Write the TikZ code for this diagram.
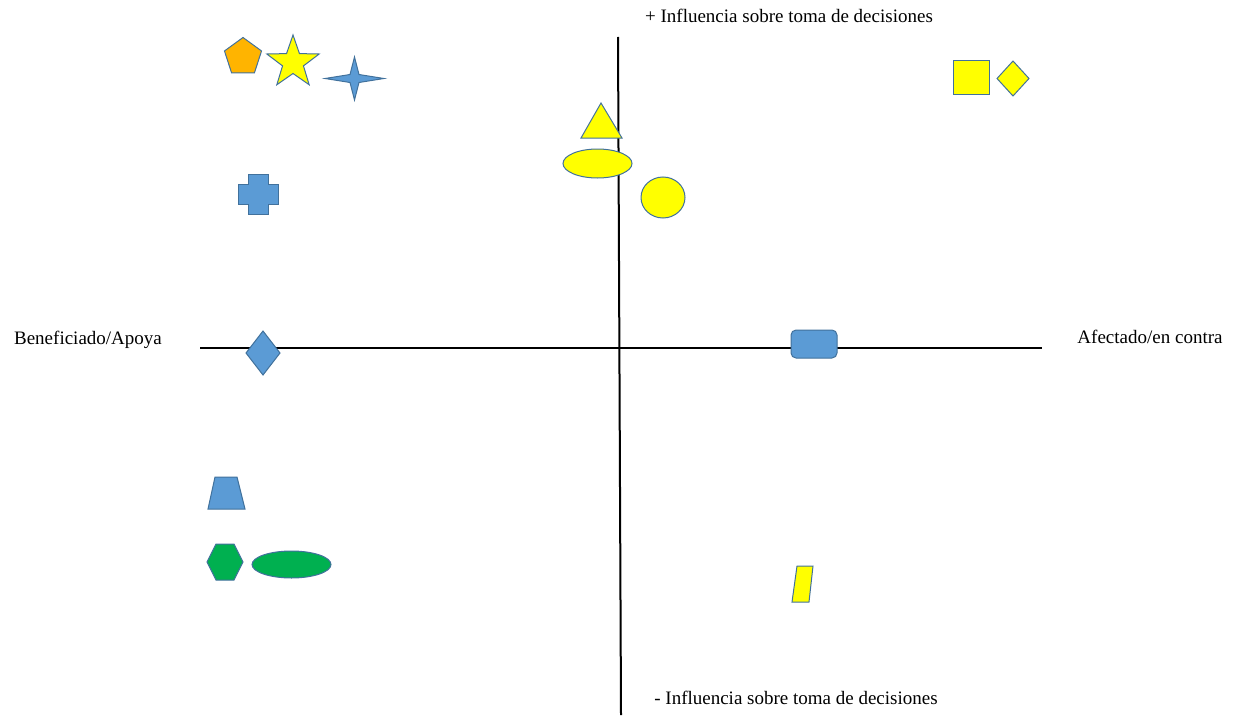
\documentclass[tikz,border=0pt]{standalone}
\usepackage{fontspec}
\setmainfont{Liberation Serif}
\usetikzlibrary{shapes.geometric}
\definecolor{msblue}{HTML}{5B9BD5}
\definecolor{msedge}{HTML}{41719C}
\definecolor{msyellow}{HTML}{FFFF00}
\definecolor{msgreen}{HTML}{00B050}
\definecolor{msorange}{HTML}{FFB400}
\begin{document}
\begin{tikzpicture}[x=0.5pt, y=-0.5pt,
  every node/.style={font=\fontsize{9.5}{12}\selectfont},
  blueshape/.style={fill=msblue, draw=msedge, line width=0.5pt},
  yellowshape/.style={fill=msyellow, draw=msedge, line width=0.5pt},
  greenshape/.style={fill=msgreen, draw=msedge, line width=0.5pt},
  orangeshape/.style={fill=msorange, draw=msedge, line width=0.5pt}]
  \useasboundingbox (0,0) rectangle (1236,717);

  % axes
  \coordinate (left) at (200,348);
  \coordinate (right) at (1042,348);
  \coordinate (top) at (618,37);
  \coordinate (bottom) at (621,715);
  \draw[line width=1pt] (left) -- (right);
  \draw[line width=1pt] (top) -- (bottom);

  % labels
  \node (plus) at (789,16) {+ Influencia sobre toma de decisiones};
  \node (minus) at (796,698) {- Influencia sobre toma de decisiones};
  \node (benef) at (88,340) {Beneficiado/Apoya};
  \node (afect) at (1150,337) {Afectado/en contra};

  % upper left
  \node[orangeshape, regular polygon, regular polygon sides=5, minimum size=19.5pt, inner sep=0pt] (penta) at (243,57) {};
  \node[yellowshape, star, star points=5, star point ratio=2.5, minimum size=27.5pt, inner sep=0pt] (estrella) at (293,62.5) {};
  \draw[blueshape] (325,78.5) -- (350,74.5) -- (354.5,57) -- (359,74.5) -- (384,78.5)
    -- (359,82.5) -- (354.5,100) -- (350,82.5) -- cycle;
  \draw[blueshape] (248,174) -- (268,174) -- (268,184) -- (278,184) -- (278,204) -- (268,204)
    -- (268,214) -- (248,214) -- (248,204) -- (238,204) -- (238,184) -- (248,184) -- cycle;

  % near the centre
  \draw[yellowshape] (601,103) -- (622,138) -- (581,138) -- cycle;
  \draw[yellowshape] (597.5,163.5) ellipse [x radius=17.25pt, y radius=7.25pt];
  \draw[yellowshape] (663,197.5) ellipse [x radius=11pt, y radius=10.25pt];

  % upper right
  \draw[yellowshape] (953,61) rectangle (989,95);
  \draw[yellowshape] (1013,61) -- (1029,78.5) -- (1013,96) -- (997,78.5) -- cycle;

  % on the horizontal axis
  \draw[blueshape] (263,331) -- (280,353) -- (263,375) -- (246,353) -- cycle;
  \draw[blueshape, rounded corners=2.5pt] (791,330) rectangle (837,358);

  % lower left
  \draw[blueshape] (215,477) -- (237,477) -- (245,509) -- (208,509) -- cycle;
  \draw[greenshape] (207,562) -- (216,544) -- (234,544) -- (243,562) -- (234,580) -- (216,580) -- cycle;
  \draw[greenshape] (291.5,564.5) ellipse [x radius=19.75pt, y radius=6.75pt];

  % lower right
  \draw[yellowshape] (797,566) -- (813,566) -- (809,602) -- (792,602) -- cycle;
\end{tikzpicture}
\end{document}
